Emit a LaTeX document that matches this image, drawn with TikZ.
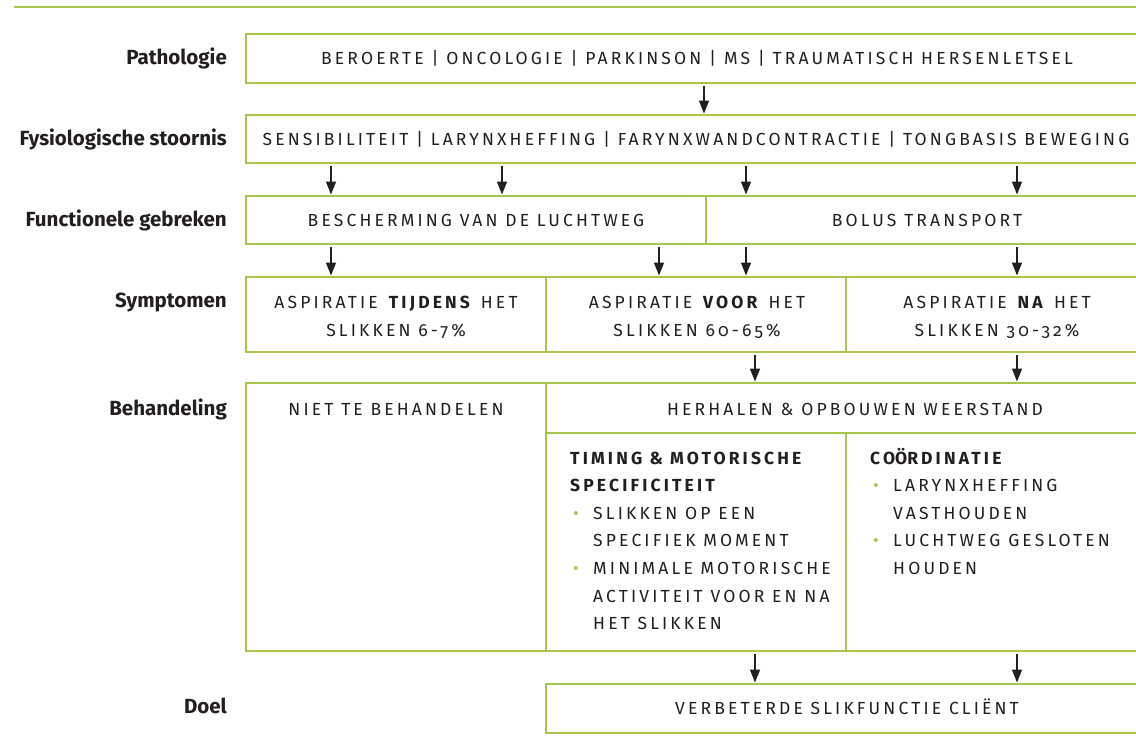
\documentclass[tikz,border=0pt]{standalone}
\usepackage{fontspec}
\usetikzlibrary{arrows.meta}
\setmainfont{Fira Sans}[Numbers=OldStyle]
\newfontfamily\capsfam{Fira Sans}[LetterSpace=18,Numbers=OldStyle]
\definecolor{lg}{HTML}{A6C64C}
\definecolor{ink}{HTML}{231F20}
\newcommand{\labfnt}{\fontsize{20.5}{24}\selectfont\bfseries}
\newcommand{\capfnt}{\capsfam\fontsize{17.5}{27.6}\selectfont}
\newcommand{\bitem}{\makebox[23pt][l]{\hspace{3pt}\textcolor{lg}{\textbullet}}}
\newcommand{\bindent}{\hspace*{23pt}}
\begin{document}
\begin{tikzpicture}[x=1pt,y=-1pt,
  box/.style={draw=lg,line width=1.6pt,anchor=north west,inner sep=0pt,outer sep=0pt},
  lab/.style={anchor=base east,inner sep=0pt,font=\labfnt,text=ink},
  captxt/.style={anchor=base,inner sep=0pt,font=\capfnt,text=ink},
  capleft/.style={anchor=north west,inner sep=0pt,font=\capfnt,text=ink,align=left},
  arr/.style={draw=ink,line width=1.5pt,-{Triangle[width=10pt,length=13pt]},shorten >=1.5pt,shorten <=3pt}]
\useasboundingbox (0,0) rectangle (1136,747);
\fill[white] (0,0) rectangle (1136,747);
\draw[lg,line width=1.6pt] (14,7) -- (1136,7);

% boxes
\node[box,minimum width=902pt,minimum height=49pt] (patho) at (246,34) {};
\node[box,minimum width=902pt,minimum height=48pt] (fys) at (246,115) {};
\node[box,minimum width=460pt,minimum height=48pt] (funcA) at (246,196) {};
\node[box,minimum width=442pt,minimum height=48pt] (funcB) at (706,196) {};
\node[box,minimum width=300pt,minimum height=75pt] (symA) at (246,277) {};
\node[box,minimum width=300pt,minimum height=75pt] (symB) at (546,277) {};
\node[box,minimum width=302pt,minimum height=75pt] (symC) at (846,277) {};
\node[box,minimum width=300pt,minimum height=268pt] (behA) at (246,383) {};
\node[box,minimum width=602pt,minimum height=50pt] (behH) at (546,383) {};
\node[box,minimum width=300pt,minimum height=218pt] (behB) at (546,433) {};
\node[box,minimum width=302pt,minimum height=218pt] (behC) at (846,433) {};
\node[box,minimum width=602pt,minimum height=49pt] (doel) at (546,684) {};

% labels
\node[lab] (l1) at (227,64.5) {Pathologie};
\node[lab] (l2) at (227,145) {Fysiologische stoornis};
\node[lab] (l3) at (227,226) {Functionele gebreken};
\node[lab] (l4) at (227,307) {Symptomen};
\node[lab] (l5) at (227,415) {Behandeling};
\node[lab] (l6) at (227,713) {Doel};

% texts
\node[captxt] (t1) at (697,64.5) {BEROERTE | ONCOLOGIE | PARKINSON | MS | TRAUMATISCH HERSENLETSEL};
\node[captxt] (t2) at (696,145) {SENSIBILITEIT | LARYNXHEFFING | FARYNXWANDCONTRACTIE | TONGBASIS BEWEGING};
\node[captxt] (t3) at (476,226) {BESCHERMING VAN DE LUCHTWEG};
\node[captxt] (t4) at (927,226) {BOLUS TRANSPORT};
\node[captxt] (t5a) at (396,308) {ASPIRATIE \textbf{TIJDENS} HET};
\node[captxt] (t5b) at (396,336) {SLIKKEN 6-7\%};
\node[captxt] (t6a) at (697,308) {ASPIRATIE \textbf{VOOR} HET};
\node[captxt] (t6b) at (697,336) {SLIKKEN 60-65\%};
\node[captxt] (t7a) at (997,308) {ASPIRATIE \textbf{NA} HET};
\node[captxt] (t7b) at (997,336) {SLIKKEN 30-32\%};
\node[captxt] (t8) at (396,415) {NIET TE BEHANDELEN};
\node[captxt] (t9) at (855,415) {HERHALEN \& OPBOUWEN WEERSTAND};
\node[capleft] (t10) at (570,451.5) {\textbf{TIMING \& MOTORISCHE}\\
\textbf{SPECIFICITEIT}\\
\bitem SLIKKEN OP EEN\\
\bindent SPECIFIEK MOMENT\\
\bitem MINIMALE MOTORISCHE\\
\bindent ACTIVITEIT VOOR EN NA\\
\bindent HET SLIKKEN};
\node[capleft] (t11) at (870,451.5) {\textbf{CO\smash{Ö}RDINATIE}\\
\bitem LARYNXHEFFING\\
\bindent VASTHOUDEN\\
\bitem LUCHTWEG GESLOTEN\\
\bindent HOUDEN};
\node[captxt] (t12) at (847,714) {VERBETERDE SLIKFUNCTIE CLIËNT};

% arrow columns
\foreach \n/\x in {a/704,b/331,c/502,d/746,e/1017,f/659,g/755}{\coordinate (x\n) at (\x,0);}
\draw[arr] (patho.south -| xa) -- (fys.north -| xa);
\draw[arr] (fys.south -| xb) -- (funcA.north -| xb);
\draw[arr] (fys.south -| xc) -- (funcA.north -| xc);
\draw[arr] (fys.south -| xd) -- (funcB.north -| xd);
\draw[arr] (fys.south -| xe) -- (funcB.north -| xe);
\draw[arr] (funcA.south -| xb) -- (symA.north -| xb);
\draw[arr] (funcA.south -| xf) -- (symB.north -| xf);
\draw[arr] (funcB.south -| xd) -- (symB.north -| xd);
\draw[arr] (funcB.south -| xe) -- (symC.north -| xe);
\draw[arr] (symB.south -| xg) -- (behH.north -| xg);
\draw[arr] (symC.south -| xe) -- (behH.north -| xe);
\draw[arr] (behB.south -| xg) -- (doel.north -| xg);
\draw[arr] (behC.south -| xe) -- (doel.north -| xe);
\end{tikzpicture}
\end{document}
